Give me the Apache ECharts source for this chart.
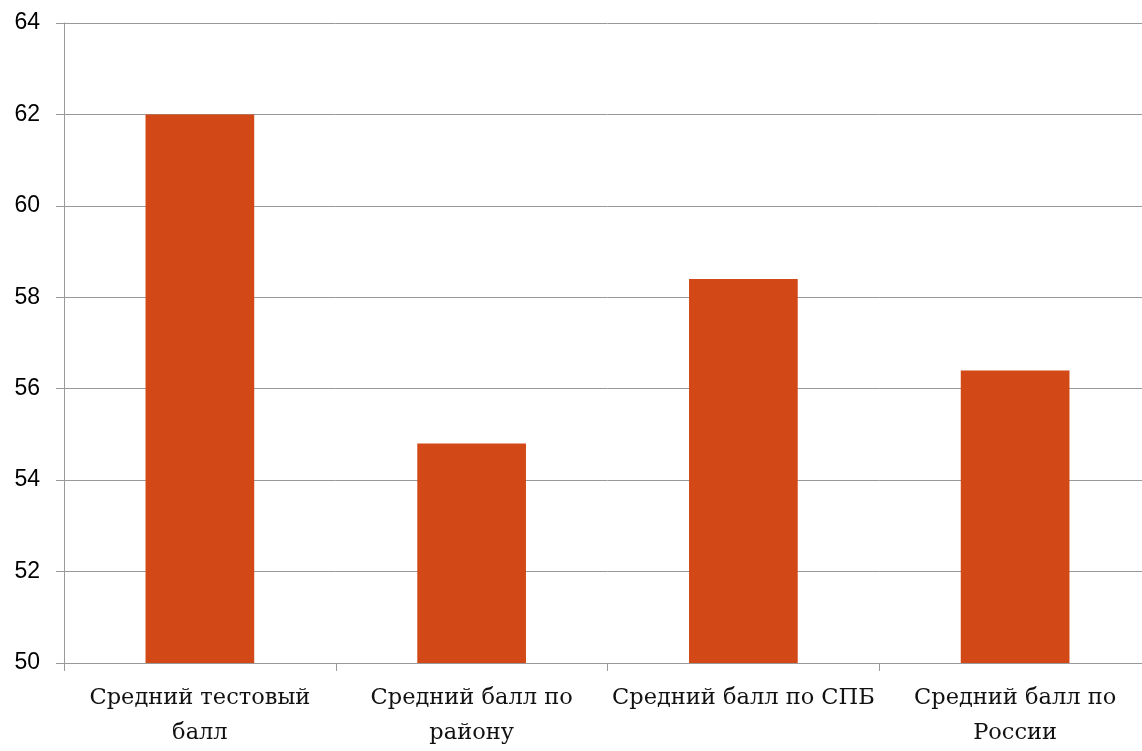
<!DOCTYPE html>
<html><head><meta charset="utf-8">
<script src="https://cdn.jsdelivr.net/npm/echarts@6/dist/echarts.min.js"></script>
<style>html,body{margin:0;padding:0;overflow:hidden;background:#fff}#c{width:1160px;height:751px}</style>
</head><body><div id="c"></div>
<script>
const categories = ['Средний тестовый\nбалл', 'Средний балл по\nрайону', 'Средний балл по СПБ', 'Средний балл по\nРоссии'];
const values = [62.0, 54.8, 58.4, 56.4];
const yTicks = { min: 50, max: 64, interval: 2 };

const chart = echarts.init(document.getElementById('c'), null, { renderer: 'canvas' });
chart.setOption({
  animation: false,
  grid: { left: 64, right: 9, top: 23, bottom: 77, containLabel: false },
  xAxis: {
    type: 'category',
    data: categories,
    boundaryGap: true,
    axisLine: { lineStyle: { color: '#999', width: 1 } },
    axisTick: { show: true, length: 8, lineStyle: { color: '#999' } },
    axisLabel: { color: '#111', fontFamily: 'DejaVu Serif', fontSize: 22.5, lineHeight: 35, margin: 18, interval: 0 }
  },
  yAxis: {
    type: 'value',
    min: yTicks.min, max: yTicks.max, interval: yTicks.interval,
    axisLine: { show: true, lineStyle: { color: '#999', width: 1 } },
    axisTick: { show: true, length: 8, lineStyle: { color: '#999' } },
    splitLine: { show: true, lineStyle: { color: '#999', width: 1 } },
    axisLabel: { color: '#000', fontFamily: 'Liberation Sans', fontSize: 23, margin: 24 }
  },
  series: [{
    type: 'bar',
    data: values,
    barWidth: '40%',
    itemStyle: { color: '#D34817' }
  }]
});
</script></body></html>
